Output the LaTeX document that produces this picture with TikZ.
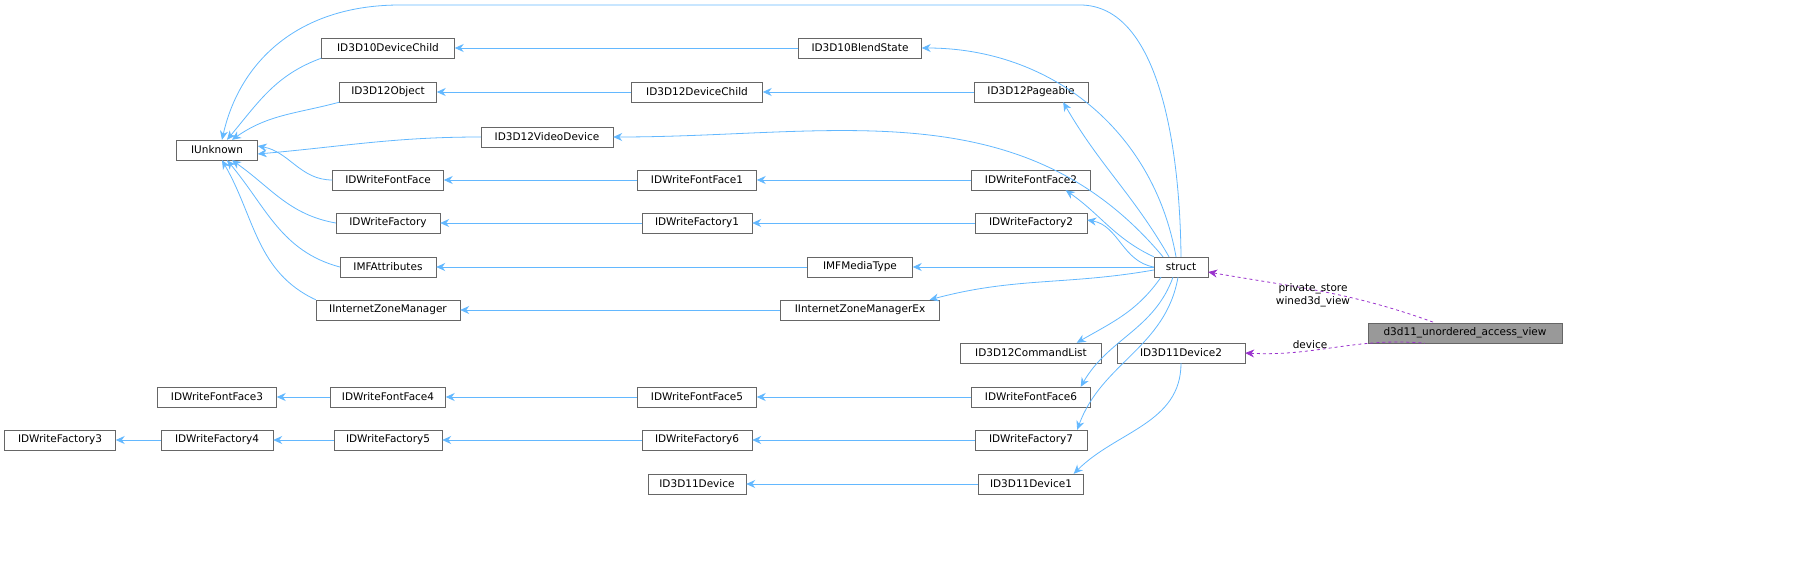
\documentclass[tikz,border=0pt]{standalone}
\usepackage{fontspec}
\setmainfont{DejaVu Sans}
\usetikzlibrary{arrows.meta}
\definecolor{sb}{HTML}{63B8FF}
\definecolor{pu}{HTML}{9A32CD}
\begin{document}
\begin{tikzpicture}[x=1pt,y=-1pt,
 box/.style={draw=black!60,fill=white,minimum height=20pt,inner sep=2pt,font=\fontsize{10.5}{12}\selectfont},
 arr/.style={draw=sb,line width=0.8pt,{Stealth[length=9pt,width=8pt]}-},
 dep/.style={draw=pu,line width=0.8pt,dashed,{Stealth[length=9pt,width=8pt]}-},
 lab/.style={font=\fontsize{10.5}{12.5}\selectfont,inner sep=0pt}]
\node[box,minimum width=81pt] (iu) at (217,150) {IUnknown};
\node[box,minimum width=133pt] (d10c) at (388,48) {ID3D10DeviceChild};
\node[box,minimum width=97pt] (d12o) at (388,92) {ID3D12Object};
\node[box,minimum width=132pt] (vd) at (547,137) {ID3D12VideoDevice};
\node[box,minimum width=111pt] (ff) at (388,180) {IDWriteFontFace};
\node[box,minimum width=104pt] (fa) at (388,223) {IDWriteFactory};
\node[box,minimum width=96pt] (mfa) at (388,267) {IMFAttributes};
\node[box,minimum width=144pt] (izm) at (388,310) {IInternetZoneManager};
\node[box,minimum width=123pt] (bs) at (860,48) {ID3D10BlendState};
\node[box,minimum width=131pt] (d12c) at (697,92) {ID3D12DeviceChild};
\node[box,minimum width=114pt] (pg) at (1031,92) {ID3D12Pageable};
\node[box,minimum width=119pt] (ff1) at (697,180) {IDWriteFontFace1};
\node[box,minimum width=119pt] (ff2) at (1031,180) {IDWriteFontFace2};
\node[box,minimum width=110pt] (fa1) at (697,223) {IDWriteFactory1};
\node[box,minimum width=112pt] (fa2) at (1031,223) {IDWriteFactory2};
\node[box,minimum width=105pt] (mt) at (860,267) {IMFMediaType};
\node[box,minimum width=159pt] (izmx) at (860,310) {IInternetZoneManagerEx};
\node[box,minimum width=141pt] (cl) at (1031,353) {ID3D12CommandList};
\node[box,minimum width=119pt] (ff6) at (1031,397) {IDWriteFontFace6};
\node[box,minimum width=112pt] (fa7) at (1031,440) {IDWriteFactory7};
\node[box,minimum width=105pt] (dv1) at (1031,484) {ID3D11Device1};
\node[box,minimum width=98pt] (dv) at (697,484) {ID3D11Device};
\node[box,minimum width=119pt] (ff5) at (697,397) {IDWriteFontFace5};
\node[box,minimum width=110pt] (fa6) at (697,440) {IDWriteFactory6};
\node[box,minimum width=115pt] (ff4) at (388,397) {IDWriteFontFace4};
\node[box,minimum width=108pt] (fa5) at (388,440) {IDWriteFactory5};
\node[box,minimum width=119pt] (ff3) at (217,397) {IDWriteFontFace3};
\node[box,minimum width=112pt] (fa4) at (217,440) {IDWriteFactory4};
\node[box,minimum width=111pt] (fa3) at (60,440) {IDWriteFactory3};
\node[box,minimum width=54pt] (st) at (1181,267) {struct};
\node[box,minimum width=128pt] (dv2) at (1181,353) {ID3D11Device2};
\node[box,minimum width=194pt,fill=black!40] (uav) at (1465,333) {d3d11\_unordered\_access\_view};
% IUnknown fan
\draw[arr] ([xshift=10pt]iu.north) to[out=50,in=200] (d10c.south west);
\draw[arr] ([xshift=15pt]iu.north) to[out=35,in=195] (d12o.south west);
\draw[arr] ([yshift=-4pt]iu.east) to[out=5,in=180] (vd.west);
\draw[arr] ([yshift=4pt]iu.east) to[out=-10,in=180] (ff.west);
\draw[arr] ([xshift=15pt]iu.south) to[out=-35,in=170] (fa.west);
\draw[arr] ([xshift=10pt]iu.south) to[out=-50,in=165] (mfa.west);
\draw[arr] ([xshift=5pt]iu.south) to[out=-60,in=155] (izm.north west);
\draw[arr] ([xshift=5pt]iu.north) .. controls (240,60) and (300,5) .. (400,5) -- (1080,5) .. controls (1160,5) and (1180,150) .. (st.north);
% chains
\draw[arr] (d10c) -- (bs);
\draw[arr] (d12o) -- (d12c);
\draw[arr] (d12c) -- (pg);
\draw[arr] (ff) -- (ff1);
\draw[arr] (ff1) -- (ff2);
\draw[arr] (fa) -- (fa1);
\draw[arr] (fa1) -- (fa2);
\draw[arr] (mfa) -- (mt);
\draw[arr] (izm) -- (izmx);
\draw[arr] (ff3) -- (ff4);
\draw[arr] (ff4) -- (ff5);
\draw[arr] (ff5) -- (ff6);
\draw[arr] (fa3) -- (fa4);
\draw[arr] (fa4) -- (fa5);
\draw[arr] (fa5) -- (fa6);
\draw[arr] (fa6) -- (fa7);
\draw[arr] (dv) -- (dv1);
% into struct
\draw[arr] (bs.east) to[out=0,in=100] ([xshift=-5pt]st.north);
\draw[arr] ([xshift=-25pt]pg.south east) to[out=-60,in=120] ([xshift=-12pt]st.north);
\draw[arr] (vd.east) to[out=0,in=130] ([xshift=-18pt]st.north);
\draw[arr] ([xshift=-25pt]ff2.south east) to[out=-35,in=155] (st.north west);
\draw[arr] ([yshift=3pt]fa2.east) to[out=-10,in=170] (st.west);
\draw[arr] (mt.east) -- (st.west);
\draw[arr] ([xshift=-10pt]izmx.north east) to[out=15,in=190] ([yshift=-3pt]st.west);
\draw[arr] ([xshift=-25pt]cl.north east) to[out=30,in=-125] ([xshift=-20pt]st.south);
\draw[arr] ([xshift=-10pt]ff6.north east) to[out=60,in=-110] ([xshift=-8pt]st.south);
\draw[arr] ([xshift=-10pt]fa7.north east) to[out=70,in=-100] ([xshift=-3pt]st.south);
\draw[arr] ([xshift=-10pt]dv1.north east) to[out=45,in=-90] (dv2.south);
% dependencies
\draw[dep] ([yshift=-5pt]st.east) to[out=-10,in=160] ([xshift=-30pt]uav.north);
\draw[dep] (dv2.east) to[out=-3,in=175] ([xshift=-40pt]uav.south);
\node[lab,align=center] at (1313,295) {private\_store\\wined3d\_view};
\node[lab] at (1310,345) {device};
\pgfresetboundingbox
\useasboundingbox (0,0) rectangle (1815,575);
\end{tikzpicture}
\end{document}
